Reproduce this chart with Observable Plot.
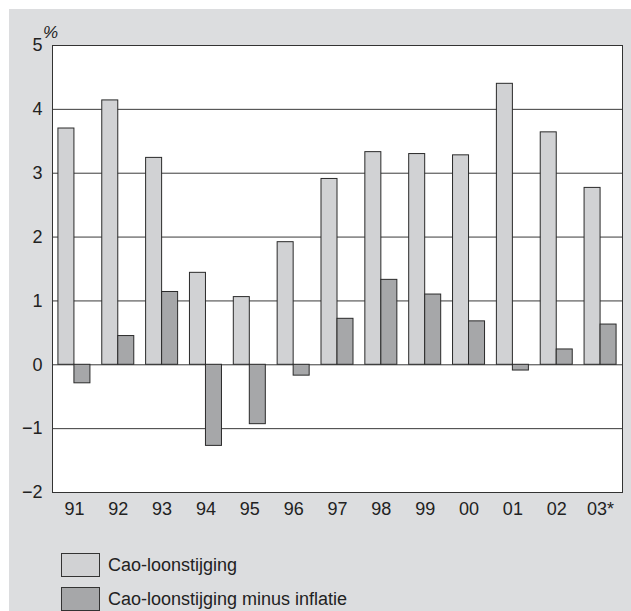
<!DOCTYPE html>
<html>
<head>
<meta charset="utf-8">
<script src="https://cdn.jsdelivr.net/npm/d3@7"></script>
<script src="https://cdn.jsdelivr.net/npm/@observablehq/plot@0.6"></script>
<style>
  html, body { margin: 0; padding: 0; background: #ffffff; }
  body { width: 631px; height: 611px; overflow: hidden; position: relative; font-family: "Liberation Sans", Arial, sans-serif; }
  #panel { position: absolute; left: 9px; top: 9px; width: 622px; height: 602px; background: #dcdddf; overflow: hidden; }
  #chart { position: absolute; left: 0; top: 0; }
  .unit { position: absolute; left: 34px; top: 14px; font-size: 17px; font-style: italic; color: #222; }
  .leg { position: absolute; left: 52px; display: flex; align-items: center; font-size: 18px; color: #222; }
  .sw { width: 37px; height: 22px; border: 1px solid #333; margin-right: 8px; }
</style>
</head>
<body>
<div id="panel">
  <div id="chart"></div>
  <div class="unit">%</div>
  <div class="leg" style="top:544px"><div class="sw" style="background:#d1d2d4"></div><span>Cao-loonstijging</span></div>
  <div class="leg" style="top:578px"><div class="sw" style="background:#a6a7a9"></div><span>Cao-loonstijging minus inflatie</span></div>
</div>
<script>
const years = ["91","92","93","94","95","96","97","98","99","00","01","02","03*"];
const caoLoonstijging = [3.70, 4.14, 3.24, 1.44, 1.06, 1.92, 2.91, 3.33, 3.30, 3.28, 4.40, 3.64, 2.77];
const minusInflatie = [-0.29, 0.45, 1.14, -1.27, -0.93, -0.17, 0.72, 1.33, 1.10, 0.68, -0.09, 0.24, 0.63];
const yTicks = [-2, -1, 0, 1, 2, 3, 4, 5];
const gridValues = [-1, 0, 1, 2, 3, 4];

const lightData = years.map((y, i) => ({year: y, value: caoLoonstijging[i]}));
const darkData = years.map((y, i) => ({year: y, value: minusInflatie[i]}));

const width = 622, height = 520;
const marginLeft = 43, marginRight = 9, marginTop = 36, marginBottom = 37;
const pInner = 0.27, pOuter = 0.135;
const step = (width - marginLeft - marginRight) / (years.length - pInner + 2 * pOuter);
const half = step * (1 - pInner) / 2;
const fmt = d => d < 0 ? "\u2212" + Math.abs(d) : String(d);

const chart = Plot.plot({
  width, height, marginLeft, marginRight, marginTop, marginBottom,
  style: {background: "transparent", fontFamily: "'Liberation Sans', Arial, sans-serif", fontSize: "18px", color: "#222"},
  x: {domain: years, paddingInner: pInner, paddingOuter: pOuter, round: false, label: null},
  y: {domain: [-2, 5], label: null},
  marks: [
    Plot.frame({fill: "white", stroke: "none"}),
    Plot.ruleY(gridValues, {stroke: "#3a3a3a", strokeWidth: 1}),
    Plot.barY(lightData, {x: "year", y: "value", insetRight: half, fill: "#d1d2d4", stroke: "#2a2a2a", strokeWidth: 1}),
    Plot.barY(darkData, {x: "year", y: "value", insetLeft: half, fill: "#a6a7a9", stroke: "#2a2a2a", strokeWidth: 1}),
    Plot.frame({stroke: "#333", strokeWidth: 1}),
    Plot.axisY(yTicks, {tickSize: 0, tickPadding: 10, fontSize: 18, tickFormat: fmt, label: null}),
    Plot.axisX({tickSize: 0, tickPadding: 10, fontSize: 18, label: null})
  ]
});
document.getElementById("chart").appendChild(chart);
</script>
</body>
</html>
